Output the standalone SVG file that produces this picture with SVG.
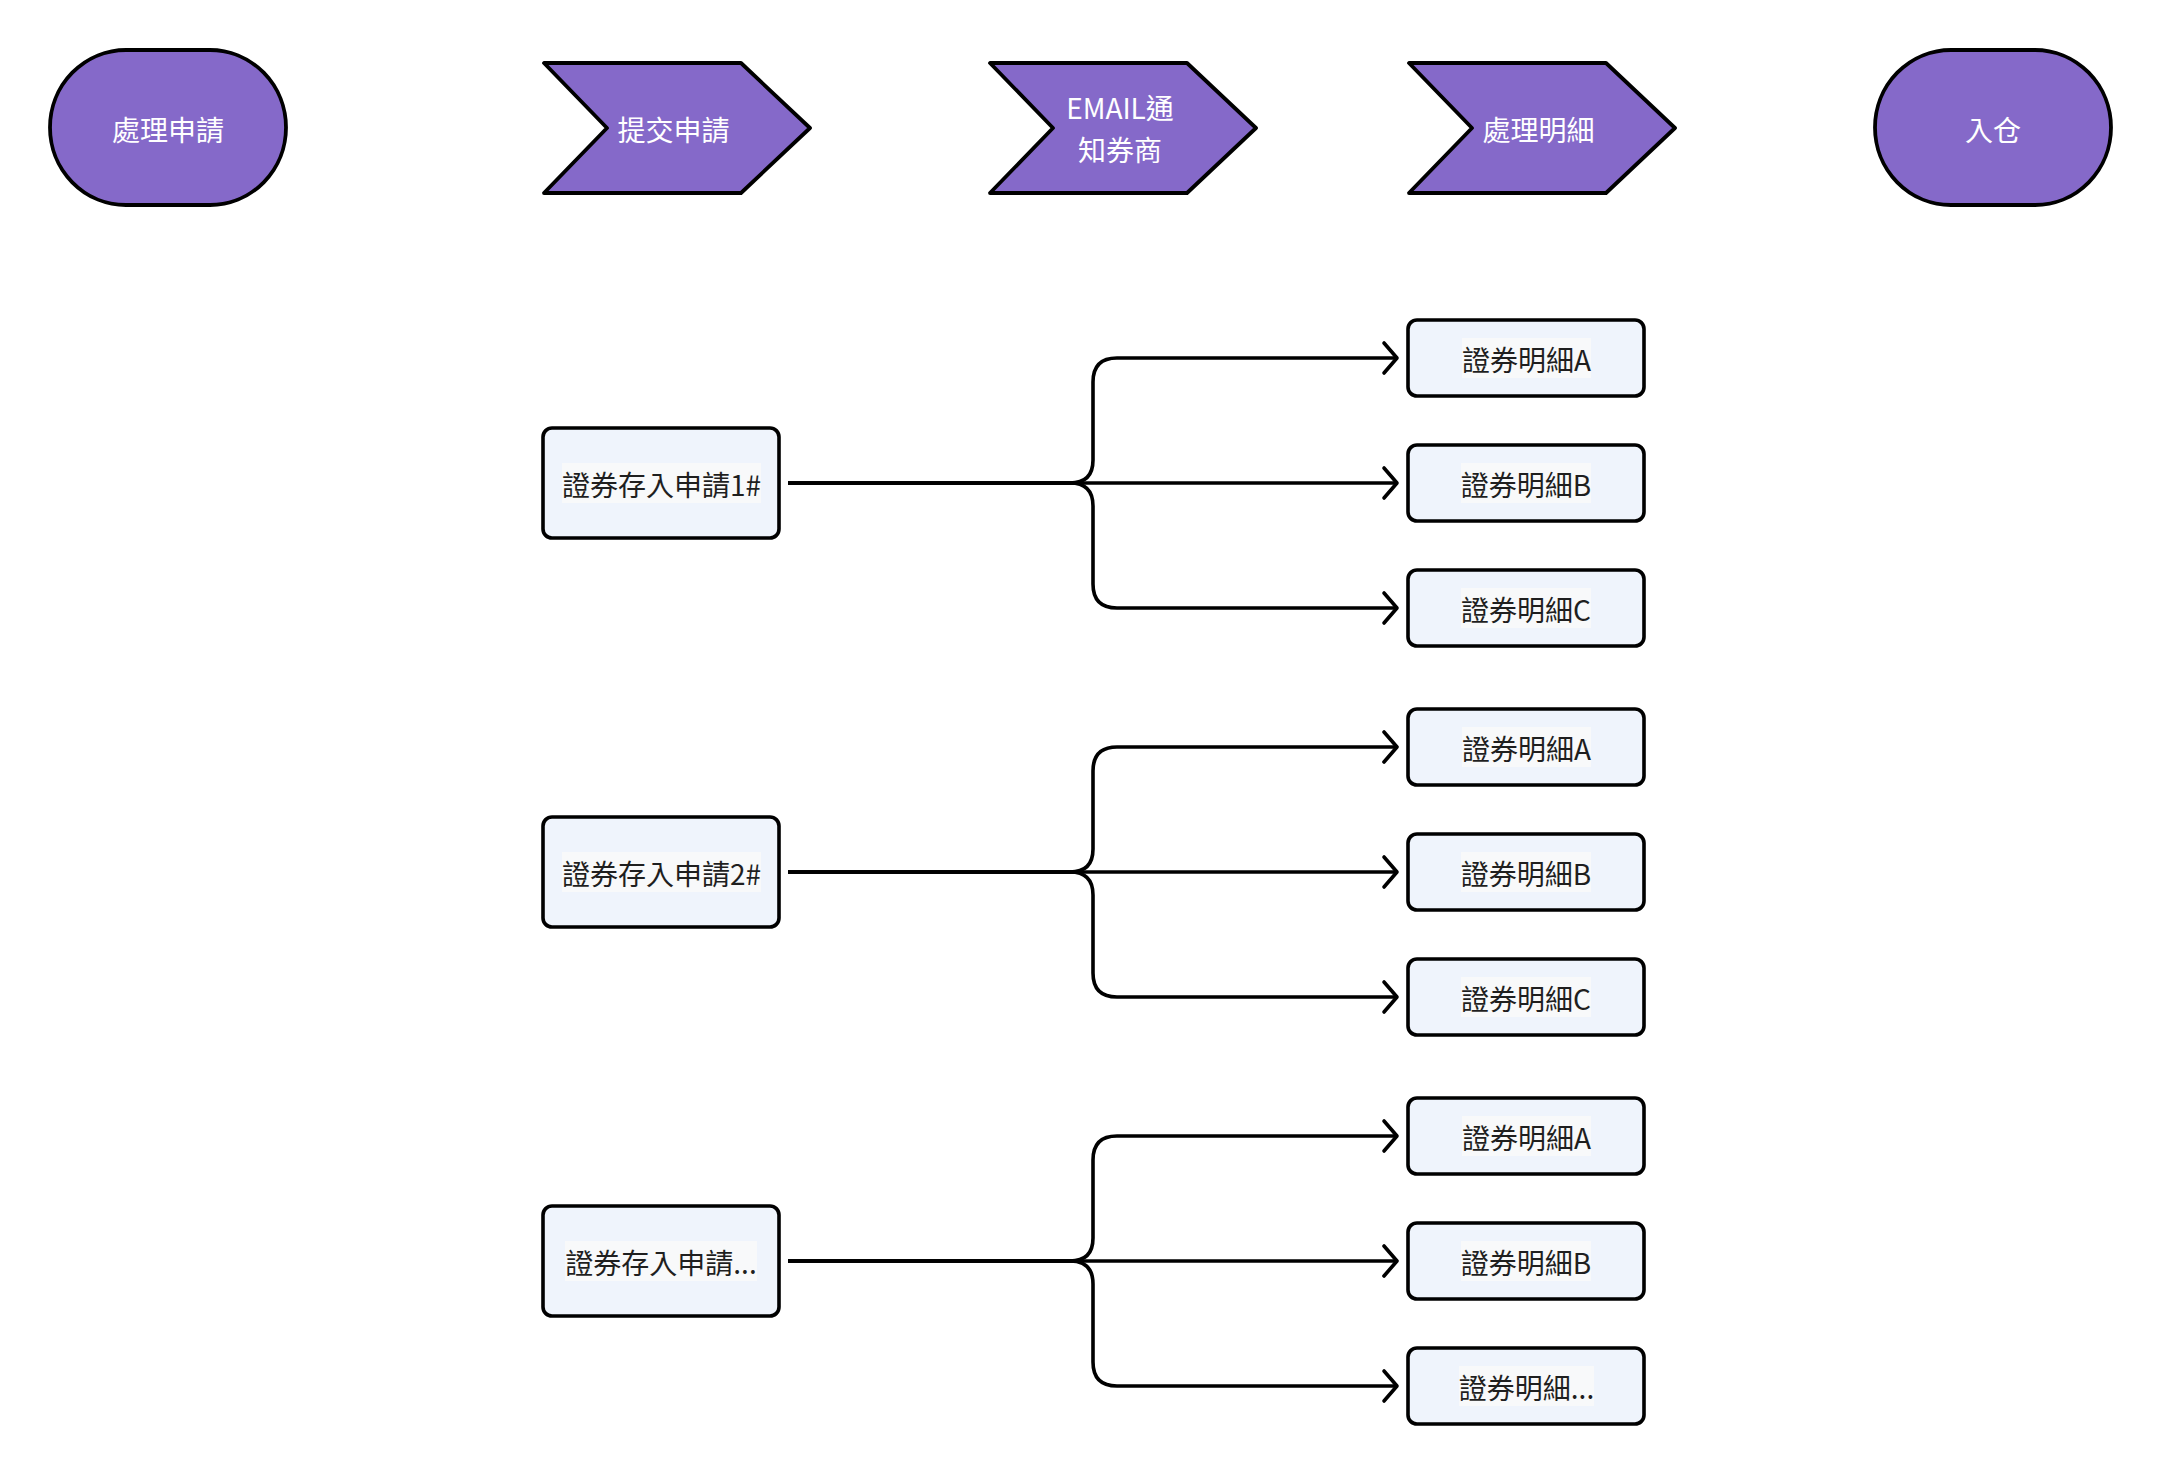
<svg xmlns="http://www.w3.org/2000/svg" width="2162" height="1476" viewBox="0 0 2162 1476">
<style>
.term{fill:#8569C9;stroke:#000;stroke-width:3.8;stroke-linejoin:round}
.chev{fill:#8569C9;stroke:#000;stroke-width:3.8;stroke-linejoin:round}
.wt{fill:#FFFFFF;font-family:"Noto Sans CJK TC","Noto Sans CJK SC",sans-serif;font-size:28px;text-anchor:middle}
.box{fill:#EFF4FC;stroke:#000;stroke-width:3.6}
.tbg{fill:#F8F9FA}
.dt{fill:#1F1F1F;font-family:"Noto Sans CJK TC","Noto Sans CJK SC",sans-serif;font-size:28px;text-anchor:middle}
.con{fill:none;stroke:#000;stroke-width:3.6;stroke-linejoin:round;marker-end:url(#arr)}
</style>
<defs>
<marker id="arr" markerUnits="userSpaceOnUse" viewBox="-20 -20 30 40" markerWidth="30" markerHeight="40" refX="0" refY="0" orient="auto">
<path d="M-13,-15 L0,0 L-13,15" fill="none" stroke="#000" stroke-width="3.6" stroke-linecap="round" stroke-linejoin="round"/>
</marker>
</defs>
<rect width="2162" height="1476" fill="#FFFFFF"/>

<g id="n-start">
<rect class="term" x="50" y="50" width="236" height="155" rx="76" ry="77.5"/>
<text class="wt" x="168" y="141">處理申請</text>
</g>
<g id="n-submit">
<polygon class="chev" points="544,63 741,63 810,128 741,193 544,193 607,128"/>
<text class="wt" x="673.5" y="141">提交申請</text>
</g>
<g id="n-email">
<polygon class="chev" points="990,63 1187,63 1256,128 1187,193 990,193 1053,128"/>
<text class="wt" x="1120" y="119">EMAIL通</text>
<text class="wt" x="1120" y="161">知券商</text>
</g>
<g id="n-detail">
<polygon class="chev" points="1409,63 1606,63 1675,128 1606,193 1409,193 1472,128"/>
<text class="wt" x="1538.5" y="141">處理明細</text>
</g>
<g id="n-end">
<rect class="term" x="1875" y="50" width="236" height="155" rx="76" ry="77.5"/>
<text class="wt" x="1993" y="141">入仓</text>
</g>

<g id="connectors">
<path class="con" d="M788,483 H1070 Q1093,483 1093,460 V382 Q1093,358 1117,358 H1397"/>
<path class="con" d="M788,483 H1397"/>
<path class="con" d="M788,483 H1070 Q1093,483 1093,506 V584 Q1093,608 1117,608 H1397"/>
<path class="con" d="M788,872 H1070 Q1093,872 1093,849 V771 Q1093,747 1117,747 H1397"/>
<path class="con" d="M788,872 H1397"/>
<path class="con" d="M788,872 H1070 Q1093,872 1093,895 V973 Q1093,997 1117,997 H1397"/>
<path class="con" d="M788,1261 H1070 Q1093,1261 1093,1238 V1160 Q1093,1136 1117,1136 H1397"/>
<path class="con" d="M788,1261 H1397"/>
<path class="con" d="M788,1261 H1070 Q1093,1261 1093,1284 V1362 Q1093,1386 1117,1386 H1397"/>
</g>

<g id="n-req1">
<rect class="box" x="543" y="428" width="236" height="110" rx="9"/>
<rect class="tbg" x="562" y="463" width="199" height="40"/>
<text class="dt" x="661.5" y="496">證券存入申請1#</text>
</g>
<g id="n-req2">
<rect class="box" x="543" y="817" width="236" height="110" rx="9"/>
<rect class="tbg" x="562" y="852" width="199" height="40"/>
<text class="dt" x="661.5" y="885">證券存入申請2#</text>
</g>
<g id="n-req3">
<rect class="box" x="543" y="1206" width="236" height="110" rx="9"/>
<rect class="tbg" x="565" y="1241" width="192" height="40"/>
<text class="dt" x="661" y="1274">證券存入申請...</text>
</g>

<g id="n-d1a">
<rect class="box" x="1408" y="320" width="236" height="76" rx="9"/>
<rect class="tbg" x="1462" y="338" width="129" height="40"/>
<text class="dt" x="1526.5" y="371">證券明細A</text>
</g>
<g id="n-d1b">
<rect class="box" x="1408" y="445" width="236" height="76" rx="9"/>
<rect class="tbg" x="1461" y="463" width="130" height="40"/>
<text class="dt" x="1526" y="496">證券明細B</text>
</g>
<g id="n-d1c">
<rect class="box" x="1408" y="570" width="236" height="76" rx="9"/>
<rect class="tbg" x="1461" y="588" width="130" height="40"/>
<text class="dt" x="1526" y="621">證券明細C</text>
</g>
<g id="n-d2a">
<rect class="box" x="1408" y="709" width="236" height="76" rx="9"/>
<rect class="tbg" x="1462" y="727" width="129" height="40"/>
<text class="dt" x="1526.5" y="760">證券明細A</text>
</g>
<g id="n-d2b">
<rect class="box" x="1408" y="834" width="236" height="76" rx="9"/>
<rect class="tbg" x="1461" y="852" width="130" height="40"/>
<text class="dt" x="1526" y="885">證券明細B</text>
</g>
<g id="n-d2c">
<rect class="box" x="1408" y="959" width="236" height="76" rx="9"/>
<rect class="tbg" x="1461" y="977" width="130" height="40"/>
<text class="dt" x="1526" y="1010">證券明細C</text>
</g>
<g id="n-d3a">
<rect class="box" x="1408" y="1098" width="236" height="76" rx="9"/>
<rect class="tbg" x="1462" y="1116" width="129" height="40"/>
<text class="dt" x="1526.5" y="1149">證券明細A</text>
</g>
<g id="n-d3b">
<rect class="box" x="1408" y="1223" width="236" height="76" rx="9"/>
<rect class="tbg" x="1461" y="1241" width="130" height="40"/>
<text class="dt" x="1526" y="1274">證券明細B</text>
</g>
<g id="n-d3c">
<rect class="box" x="1408" y="1348" width="236" height="76" rx="9"/>
<rect class="tbg" x="1459" y="1366" width="135" height="40"/>
<text class="dt" x="1526.5" y="1399">證券明細...</text>
</g>
</svg>
